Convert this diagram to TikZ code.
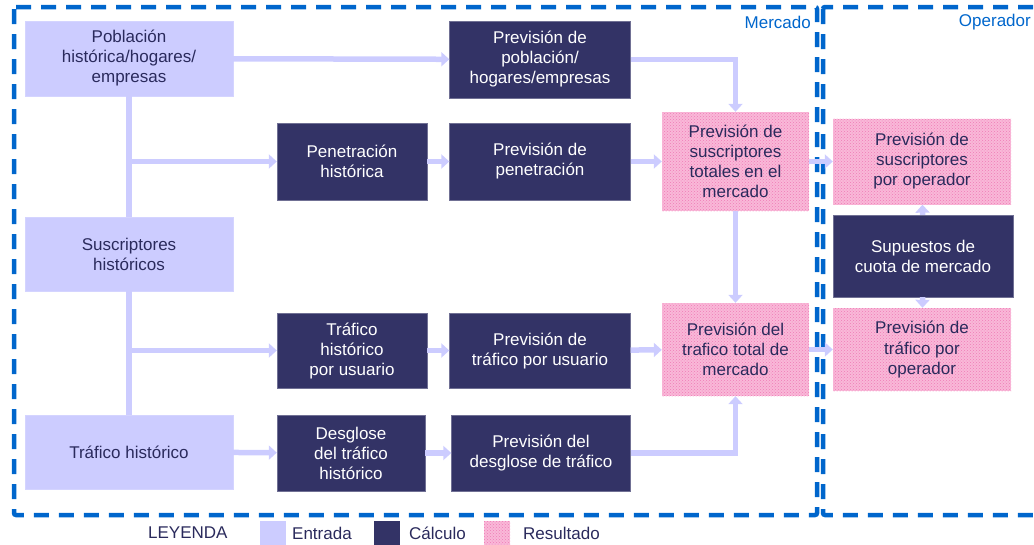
\documentclass[tikz,border=0pt]{standalone}
\usepackage{fontspec}
\setmainfont{Liberation Sans}
\usetikzlibrary{arrows.meta,patterns}
\definecolor{entrada}{HTML}{CCCCFF}
\definecolor{calculo}{HTML}{333366}
\definecolor{resultado}{HTML}{F9B8D8}
\definecolor{puntos}{HTML}{F07CB6}
\definecolor{marco}{HTML}{0066CC}
\definecolor{texto}{HTML}{2A2A5C}

\begin{document}
\begin{tikzpicture}[x=1pt,y=-1pt,
    caja/.style={font=\fontsize{17}{20}\selectfont,align=center,inner sep=0pt},
    flecha/.style={draw=entrada,line width=5.5pt,-{Triangle[width=14pt,length=8pt]}},
    linea/.style={draw=entrada,line width=5.5pt},
    marcodash/.style={draw=marco,line width=4.5pt,dash pattern=on 15pt off 10pt,rounded corners=2pt}]

      \useasboundingbox (0,0) rectangle (1034,544);

      \draw[marcodash] (14,7) rectangle (817,515);
      \draw[marcodash] (823,7) rectangle (1060,515);

      \begin{scope}[every node/.style={caja,text=marco}]
        \node[anchor=east] (merc) at (811,22) {Mercado};
        \node[anchor=east] (oper) at (1031,22) {Operador};
      \end{scope}

      \begin{scope}[every node/.style={caja,fill=entrada,draw=entrada!85!white,text=texto,minimum width=208pt}]
        \node[minimum height=75pt] (pob)  at (129,58.5) {Población\\histórica/hogares/\\empresas};
        \node[minimum height=74pt] (sush) at (129,254)  {Suscriptores\\históricos};
        \node[minimum height=74pt] (trah) at (129,452)  {Tráfico histórico};
      \end{scope}

      \begin{scope}[every node/.style={caja,fill=calculo,draw=calculo!70!white,text=white}]
        \node[minimum width=150pt,minimum height=77pt] (penh)  at (352,161.5) {Penetración\\histórica};
        \node[minimum width=150pt,minimum height=75pt] (trauh) at (352,350.5) {Tráfico\\histórico\\por usuario};
        \node[minimum width=148pt,minimum height=76pt] (desh)  at (351,453)   {Desglose\\del tráfico\\histórico};
        \node[minimum width=181pt,minimum height=77pt] (pobp)  at (540,59.5)  {Previsión de\\población/\\hogares/empresas};
        \node[minimum width=181pt,minimum height=77pt] (penp)  at (540,161.5) {Previsión de\\penetración};
        \node[minimum width=181pt,minimum height=75pt] (traup) at (540,350.5) {Previsión de\\tráfico por usuario};
        \node[minimum width=179pt,minimum height=76pt] (desp)  at (541,453)   {Previsión del\\desglose de tráfico};
        \node[minimum width=180pt,minimum height=82pt] (cuota) at (923,256)   {Supuestos de\\cuota de mercado};
      \end{scope}

      \begin{scope}[every node/.style={caja,preaction={fill=resultado},pattern=crosshatch dots,pattern color=puntos,text=texto}]
        \node[minimum width=147pt,minimum height=99pt] (sust) at (735.5,161.5) {Previsión de\\suscriptores\\totales en el\\mercado};
        \node[minimum width=147pt,minimum height=93pt] (trat) at (735.5,349.5) {Previsión del\\trafico total de\\mercado};
        \node[minimum width=178pt,minimum height=86pt] (suso) at (922,161.5)   {Previsión de\\suscriptores\\por operador};
        \node[minimum width=178pt,minimum height=83pt] (trao) at (922,349.5)   {Previsión de\\tráfico por\\operador};
      \end{scope}

      \coordinate (j1) at (129,161.5);
      \coordinate (j2) at (129,350.5);

      \begin{scope}[every edge/.style={linea}]
        \path (pob)  edge (sush);
        \path (sush) edge (trah);
      \end{scope}

      \begin{scope}[every edge/.style={flecha}]
        \path (pob)   edge (pobp);
        \path (j1)    edge (penh);
        \path (j2)    edge (trauh);
        \path (trah)  edge (desh);
        \path (penh)  edge (penp);
        \path (trauh) edge (traup);
        \path (desh)  edge (desp);
        \path (penp)  edge (sust);
        \path (traup) edge (trat);
        \path (sust)  edge (trat);
        \path (sust)  edge (suso);
        \path (trat)  edge (trao);
        \path (cuota) edge (suso);
        \path (cuota) edge (trao);
      \end{scope}
      \draw[flecha] (pobp) -| (sust);
      \draw[flecha] (desp) -| (trat);

      \begin{scope}[every node/.style={caja,minimum width=26pt,minimum height=26pt}]
        \node[fill=entrada] (ley1) at (272.5,534) {};
        \node[fill=calculo] (ley2) at (387,534)   {};
        \node[preaction={fill=resultado},pattern=crosshatch dots,pattern color=puntos] (ley3) at (497,534) {};
      \end{scope}

      \begin{scope}[every node/.style={caja,text=texto,anchor=west}]
        \node (leyenda) at (148,533) {LEYENDA};
        \node (entr)    at (292,533) {Entrada};
        \node (calc)    at (409,533) {Cálculo};
        \node (resu)    at (523,533) {Resultado};
      \end{scope}

    \end{tikzpicture}
\end{document}
